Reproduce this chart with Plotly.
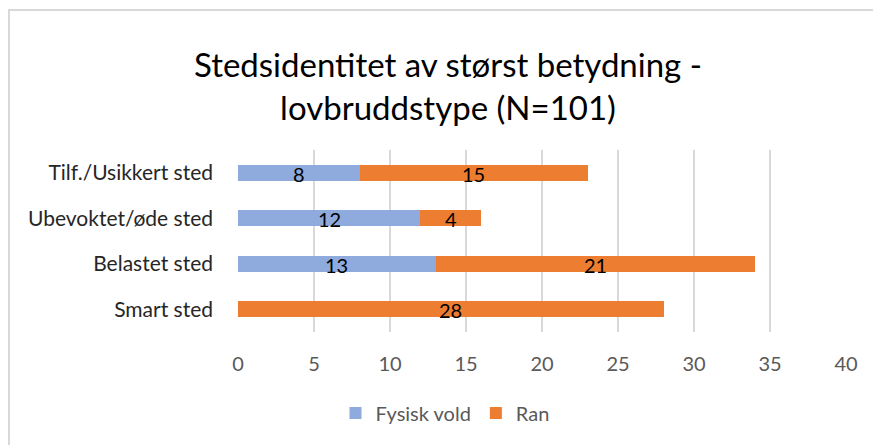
import plotly.graph_objects as go

categories = ["Tilf./Usikkert sted", "Ubevoktet/øde sted", "Belastet sted", "Smart sted"]
fysisk_vold = [8, 12, 13, 0]
ran = [15, 4, 21, 28]
x_ticks = [0, 5, 10, 15, 20, 25, 30, 35, 40]

W, H = 873, 445
ML, MR, MT, MB = 238, 27, 150, 113
PW, PH = W - ML - MR, H - MT - MB

def px_x(p):
    return (p - ML) / PW

def px_y(p):
    return (H - MB - p) / PH

FONT = "Lato"
BLUE = "#8FAADC"
ORANGE = "#ED7D31"

fig = go.Figure()
fig.add_trace(go.Bar(y=categories, x=fysisk_vold, orientation="h", name="Fysisk vold",
                     marker=dict(color=BLUE, line=dict(width=0))))
fig.add_trace(go.Bar(y=categories, x=ran, orientation="h", name="Ran",
                     marker=dict(color=ORANGE, line=dict(width=0))))

for cat, a, b in zip(categories, fysisk_vold, ran):
    if a:
        fig.add_annotation(x=a / 2, y=cat, text=str(a), showarrow=False,
                           font=dict(family=FONT, size=20, color="#000000"), yshift=-1)
    if b:
        fig.add_annotation(x=a + b / 2, y=cat, text=str(b), showarrow=False,
                           font=dict(family=FONT, size=20, color="#000000"), yshift=-1)

fig.add_shape(type="rect", xref="paper", yref="paper",
              x0=px_x(9), x1=px_x(W + 20), y0=px_y(H + 20), y1=px_y(10),
              line=dict(color="#D9D9D9", width=2), fillcolor="rgba(0,0,0,0)", layer="below")

fig.update_layout(
    width=W, height=H,
    margin=dict(l=ML, r=MR, t=MT, b=MB),
    barmode="stack", bargap=0.65,
    paper_bgcolor="#FFFFFF", plot_bgcolor="rgba(0,0,0,0)",
    font=dict(family=FONT),
    title=dict(text="Stedsidentitet av størst betydning -<br>lovbruddstype (N=101)",
               x=448 / W, xanchor="center", y=1 - 77 / H, yanchor="middle",
               font=dict(family=FONT, size=33, color="#000000")),
    xaxis=dict(range=[0, 40], tickvals=x_ticks, showgrid=True, gridcolor="#D9D9D9", gridwidth=1.5,
               zeroline=False, showline=False, ticks="", ticklabelstandoff=18,
               tickfont=dict(family=FONT, size=20, color="#595959")),
    yaxis=dict(autorange="reversed", showgrid=False, zeroline=False, showline=False, ticks="",
               ticklabelstandoff=24, tickfont=dict(family=FONT, size=21, color="#262626")),
    legend=dict(orientation="h", x=px_x(445), xanchor="center", y=px_y(413), yanchor="middle",
                font=dict(family=FONT, size=20, color="#595959"), traceorder="normal",
                itemwidth=30, bgcolor="rgba(0,0,0,0)"),
    showlegend=True,
)

fig.write_html("out.html", config={"displayModeBar": False},
               post_script="document.body.style.margin='0';")
